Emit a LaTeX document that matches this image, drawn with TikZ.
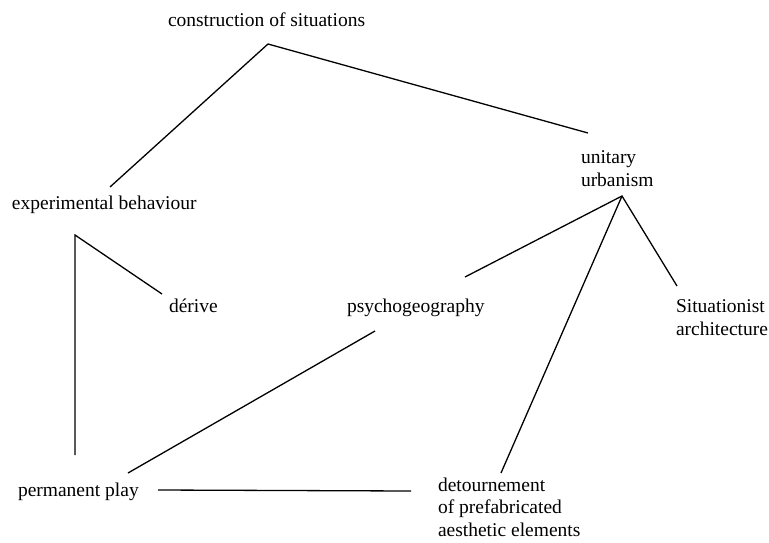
\documentclass[tikz,border=0pt]{standalone}
\usepackage{fontspec}
\setmainfont{Liberation Serif}
\begin{document}
\begin{tikzpicture}[x=1pt,y=-1pt,
  lbl/.style={anchor=base west,inner sep=0pt,outer sep=0pt,font=\fontsize{19.5}{22.5}\selectfont,align=left},
  conn/.style={line width=1.3pt,black}]
\useasboundingbox[fill=white] (0,0) rectangle (769,542);
% labels (base = baseline of the last line)
\node[lbl] (cs) at (168,26) {construction of situations};
\node[lbl] (eb) at (12,209) {experimental behaviour};
\node[lbl] (uu) at (581,186) {unitary\\urbanism};
\node[lbl] (dr) at (169,312) {dérive};
\node[lbl] (psy) at (347,312) {psychogeography};
\node[lbl] (sa) at (676,335) {Situationist\\architecture};
\node[lbl] (pp) at (18,496) {permanent play};
\node[lbl] (det) at (438,536) {detournement\\of prefabricated\\aesthetic elements};
% connector end points
\coordinate (csTip) at (268,44);
\coordinate (ebTop) at (110,187);
\coordinate (uuTop) at (588,133);
\coordinate (ebTip) at (75,235);
\coordinate (drEnd) at (162,294);
\coordinate (ppTop) at (75,455);
\coordinate (uuTip) at (622,196);
\coordinate (psyTop) at (465,277);
\coordinate (detTop) at (501,473);
\coordinate (saTop) at (677,286);
\coordinate (psyBot) at (375,331);
\coordinate (ppRight) at (128,473);
\coordinate (ppEnd) at (158,490);
\coordinate (detLeft) at (411,491);
% connectors
\draw[conn] (ebTop) -- (csTip) -- (uuTop);
\draw[conn] (drEnd) -- (ebTip) -- (ppTop);
\draw[conn] (psyTop) -- (uuTip) -- (saTop);
\draw[conn] (uuTip) -- (detTop);
\draw[conn] (psyBot) -- (ppRight);
\draw[conn] (ppEnd) -- (detLeft);
\end{tikzpicture}
\end{document}
